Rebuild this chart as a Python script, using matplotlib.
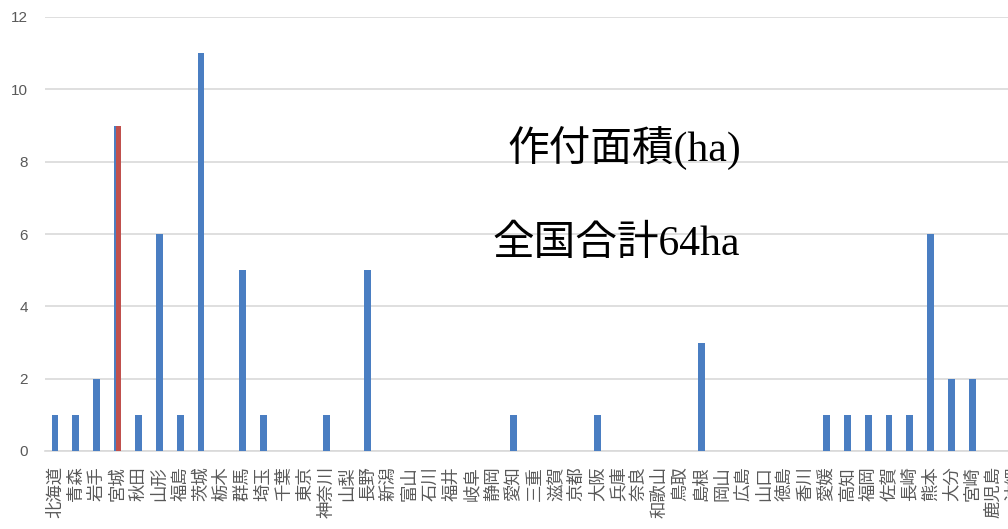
import matplotlib
matplotlib.use("Agg")
import matplotlib.pyplot as plt
import numpy as np

prefectures = ["北海道", "青森", "岩手", "宮城", "秋田", "山形", "福島", "茨城", "栃木", "群馬",
               "埼玉", "千葉", "東京", "神奈川", "山梨", "長野", "新潟", "富山", "石川", "福井",
               "岐阜", "静岡", "愛知", "三重", "滋賀", "京都", "大阪", "兵庫", "奈良", "和歌山",
               "鳥取", "島根", "岡山", "広島", "山口", "徳島", "香川", "愛媛", "高知", "福岡",
               "佐賀", "長崎", "熊本", "大分", "宮崎", "鹿児島", "沖縄"]
area_ha = [1, 1, 2, 9, 1, 6, 1, 11, 0, 5,
           1, 0, 0, 1, 0, 5, 0, 0, 0, 0,
           0, 0, 1, 0, 0, 0, 1, 0, 0, 0,
           0, 3, 0, 0, 0, 0, 0, 1, 1, 1,
           1, 1, 6, 2, 2, 0, 0]
highlight = "宮城"
yticks = [0, 2, 4, 6, 8, 10, 12]

plt.rcParams['font.family'] = ['Noto Sans CJK JP', 'DejaVu Sans']

W, H = 1008, 529
fig = plt.figure(figsize=(W / 100, H / 100), dpi=100)
left = 44.6 / W
width = 47 * 20.85 / W
bottom = (H - 451) / H
top = (H - 17) / H
ax = fig.add_axes([left, bottom, width, top - bottom])

blue = "#4A7EC2"
red = "#C0504D"
x = np.arange(len(prefectures))
bw = 0.33
ax.bar(x, area_ha, width=bw, color=blue, zorder=3)
hi = prefectures.index(highlight)
ax.bar(x[hi] + 0.05, area_ha[hi], width=bw - 0.1, color=red, zorder=4)

ax.set_xlim(-0.5, len(prefectures) - 0.5)
ax.set_ylim(0, 12)
ax.set_yticks(yticks)
ax.set_yticklabels([str(v) for v in yticks], fontsize=11, color="#595959",
                   family=['Liberation Sans', 'DejaVu Sans'])
ax.tick_params(axis='y', length=0, pad=12)
ax.yaxis.grid(True, color="#D9D9D9", linewidth=1.2, zorder=0)
ax.set_axisbelow(True)

ax.set_xticks(x)
ax.set_xticklabels(prefectures, fontsize=12.5, color="#595959", rotation=90,
                   ha='center', va='top')
ax.tick_params(axis='x', length=0, pad=11)

for s in ["top", "right", "left"]:
    ax.spines[s].set_visible(False)
ax.spines["bottom"].set_color("#D9D9D9")
ax.spines["bottom"].set_linewidth(1.2)

fig.text(624 / W, 1 - 148 / H, "作付面積(ha)", fontsize=30, ha='center', va='center',
         family=['Liberation Serif', 'Noto Sans CJK JP'])
fig.text(616 / W, 1 - 245 / H, "全国合計64ha", fontsize=30, ha='center', va='center',
         family=['Liberation Serif', 'Noto Sans CJK JP'])
fig.text(946 / W, 1 + 3 / H, "（単位：ha）", fontsize=16, ha='center', va='baseline')

fig.savefig("out.png", dpi=100)
